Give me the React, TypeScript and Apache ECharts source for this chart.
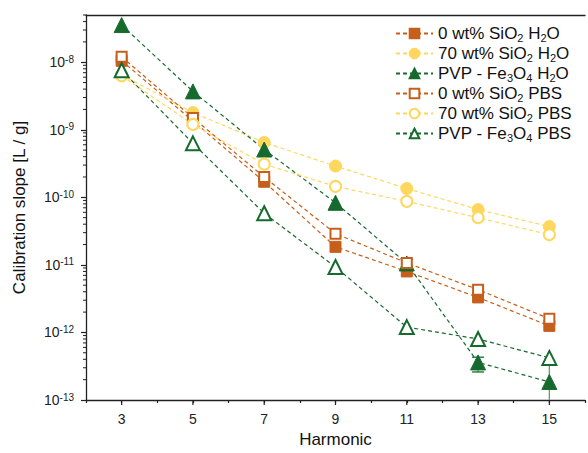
import React, { useEffect, useRef } from 'react';
import * as echarts from 'echarts';

// ---- data ----
const harmonics = [3, 5, 7, 9, 11, 13, 15];
const sio2_0_h2o = [1.05e-8, 1.35e-9, 1.7e-10, 1.85e-11, 8.0e-12, 3.3e-12, 1.25e-12];
const sio2_70_h2o = [6.5e-9, 1.8e-9, 6.5e-10, 2.9e-10, 1.35e-10, 6.6e-11, 3.7e-11];
const pvp_h2o = [3.55e-8, 3.7e-9, 5.1e-10, 8.3e-11, 1.05e-11, 3.6e-13, 1.85e-13];
const sio2_0_pbs = [1.2e-8, 1.5e-9, 2.0e-10, 2.9e-11, 1.07e-11, 4.3e-12, 1.6e-12];
const sio2_70_pbs = [6.3e-9, 1.2e-9, 3.1e-10, 1.45e-10, 8.7e-11, 5.0e-11, 2.8e-11];
const pvp_pbs = [7.6e-9, 6.3e-10, 5.8e-11, 9.3e-12, 1.2e-12, 8.0e-13, 4.2e-13];

const errHarmonics = [11, 13, 15];
const pvpH2oErrLow = [9e-12, 2.6e-13, 4e-14];
const pvpH2oErrHigh = [1.2e-11, 4.3e-13, 3.3e-13];

const xMajorTicks = [3, 5, 7, 9, 11, 13, 15];
const yDecades = [-13, -12, -11, -10, -9, -8];
const yMinorMultipliers = [2, 3, 4, 5, 6, 7, 8, 9];

const seriesNames = [
  '0 wt% SiO2 H2O',
  '70 wt% SiO2 H2O',
  'PVP - Fe3O4 H2O',
  '0 wt% SiO2 PBS',
  '70 wt% SiO2 PBS',
  'PVP - Fe3O4 PBS',
];
const richNames: Record<string, string> = {
  '0 wt% SiO2 H2O': '{n|0 wt% SiO}{s|2}{n| H}{s|2}{n|O}',
  '70 wt% SiO2 H2O': '{n|70 wt% SiO}{s|2}{n| H}{s|2}{n|O}',
  'PVP - Fe3O4 H2O': '{n|PVP - Fe}{s|3}{n|O}{s|4}{n| H}{s|2}{n|O}',
  '0 wt% SiO2 PBS': '{n|0 wt% SiO}{s|2}{n| PBS}',
  '70 wt% SiO2 PBS': '{n|70 wt% SiO}{s|2}{n| PBS}',
  'PVP - Fe3O4 PBS': '{n|PVP - Fe}{s|3}{n|O}{s|4}{n| PBS}',
};

const ORANGE = '#C65F1B';
const YELLOW = '#FFD75E';
const GREEN = '#176A2D';
const AXIS = '#222222';
const FONT = '"Liberation Sans", Arial, sans-serif';

function lineSeries(name: string, values: number[], color: string, symbol: string, size: number, filled: boolean) {
  return {
    name,
    type: 'line',
    data: harmonics.map((h, i) => [h, values[i]]),
    symbol,
    symbolSize: size,
    showAllSymbol: true,
    lineStyle: { color, width: 1.2, type: [4, 3] },
    itemStyle: { color, borderColor: color, borderWidth: filled ? 1 : 1.8 },
    z: 3,
  };
}

export default function App() {
  const ref = useRef<HTMLDivElement>(null);
  useEffect(() => {
    if (!ref.current) return;
    const chart = echarts.init(ref.current, undefined, { renderer: 'svg' });

    const yMinorData: number[][] = [];
    yDecades.forEach((d) => {
      yMinorMultipliers.forEach((k) => {
        const v = k * Math.pow(10, d);
        if (v <= 5e-8) yMinorData.push([2, v]);
      });
    });

    chart.setOption({
      animation: false,
      backgroundColor: '#ffffff',
      textStyle: { fontFamily: FONT },
      grid: { left: 86, right: -2, top: 15, bottom: 53, containLabel: false },
      legend: {
        orient: 'vertical',
        left: 395,
        top: 25,
        padding: 0,
        itemGap: 1.5,
        itemWidth: 37,
        itemHeight: 12,
        data: seriesNames,
        formatter: (name: string) => richNames[name] || name,
        textStyle: {
          fontFamily: FONT,
          color: '#111',
          rich: {
            n: { fontSize: 17, lineHeight: 20, fontFamily: FONT, color: '#111' },
            s: { fontSize: 11, lineHeight: 8, verticalAlign: 'bottom', fontFamily: FONT, color: '#111' },
          },
        },
      },
      xAxis: [
        {
          type: 'value',
          min: 2,
          max: 16,
          interval: 1,
          position: 'bottom',
          name: 'Harmonic',
          nameLocation: 'middle',
          nameGap: 30,
          nameTextStyle: { fontSize: 17, color: '#111', fontFamily: FONT },
          axisLine: { show: true, onZero: false, lineStyle: { color: AXIS, width: 1.3 } },
          axisTick: { show: true, inside: false, length: 3, lineStyle: { color: AXIS, width: 1.2 } },
          axisLabel: {
            margin: 12,
            fontSize: 14,
            color: '#222',
            fontFamily: FONT,
            formatter: (v: number) => (Math.round(v) % 2 === 1 ? String(Math.round(v)) : ''),
          },
          splitLine: { show: false },
        },
        {
          type: 'value',
          min: 2,
          max: 16,
          position: 'top',
          axisLine: { show: true, onZero: false, lineStyle: { color: AXIS, width: 1.3 } },
          axisTick: { show: false },
          axisLabel: { show: false },
          splitLine: { show: false },
        },
      ],
      yAxis: [
        {
          type: 'log',
          logBase: 10,
          min: 1e-13,
          max: 5e-8,
          name: 'Calibration slope [L / g]',
          nameLocation: 'middle',
          nameGap: 58,
          nameTextStyle: { fontSize: 17, color: '#111', fontFamily: FONT },
          axisLine: { show: true, onZero: false, lineStyle: { color: AXIS, width: 1.3 } },
          axisTick: { show: true, inside: false, length: 5, lineStyle: { color: AXIS, width: 1.2 } },
          axisLabel: {
            margin: 12,
            showMaxLabel: false,
            fontFamily: FONT,
            formatter: (v: number) => {
              const e = Math.round(Math.log10(v));
              return '{b|10}{p|' + e + '}';
            },
            rich: {
              b: { fontSize: 14, lineHeight: 16, color: '#222', fontFamily: FONT },
              p: { fontSize: 10, lineHeight: 8, verticalAlign: 'top', color: '#222', fontFamily: FONT },
            },
          },
          splitLine: { show: false },
        },
      ],
      series: [
        lineSeries(seriesNames[0], sio2_0_h2o, ORANGE, 'rect', 11, true),
        lineSeries(seriesNames[1], sio2_70_h2o, YELLOW, 'circle', 12, true),
        lineSeries(seriesNames[2], pvp_h2o, GREEN, 'triangle', 15, true),
        lineSeries(seriesNames[3], sio2_0_pbs, ORANGE, 'emptyRect', 10, false),
        lineSeries(seriesNames[4], sio2_70_pbs, YELLOW, 'emptyCircle', 11, false),
        lineSeries(seriesNames[5], pvp_pbs, GREEN, 'emptyTriangle', 14, false),
        {
          name: 'pvp-h2o-err',
          type: 'custom',
          clip: true,
          silent: true,
          z: 2,
          data: errHarmonics.map((h, i) => [h, pvpH2oErrLow[i], pvpH2oErrHigh[i]]),
          encode: { x: 0, y: [1, 2] },
          renderItem: (params: any, api: any) => {
            const lo = api.coord([api.value(0), api.value(1)]);
            const hi = api.coord([api.value(0), api.value(2)]);
            const w = 6;
            return {
              type: 'group',
              children: [
                { type: 'line', shape: { x1: lo[0], y1: lo[1], x2: hi[0], y2: hi[1] }, style: { stroke: '#5E9E72', lineWidth: 1.3 } },
                { type: 'line', shape: { x1: hi[0] - w, y1: hi[1], x2: hi[0] + w, y2: hi[1] }, style: { stroke: GREEN, lineWidth: 1.3 } },
                { type: 'line', shape: { x1: lo[0] - w, y1: lo[1], x2: lo[0] + w, y2: lo[1] }, style: { stroke: GREEN, lineWidth: 1.3 } },
              ],
            };
          },
        },
        {
          name: 'x-major-ticks',
          type: 'custom',
          clip: false,
          silent: true,
          z: 5,
          data: xMajorTicks.map((v) => [v, 1e-13]),
          renderItem: (params: any, api: any) => {
            const p = api.coord([api.value(0), api.value(1)]);
            return { type: 'line', shape: { x1: p[0], y1: p[1], x2: p[0], y2: p[1] + 5 }, style: { stroke: AXIS, lineWidth: 1.2 } };
          },
        },
        {
          name: 'y-minor-ticks',
          type: 'custom',
          clip: false,
          silent: true,
          z: 5,
          data: yMinorData,
          renderItem: (params: any, api: any) => {
            const p = api.coord([api.value(0), api.value(1)]);
            return { type: 'line', shape: { x1: p[0] - 3, y1: p[1], x2: p[0], y2: p[1] }, style: { stroke: AXIS, lineWidth: 1 } };
          },
        },
      ],
    });
    return () => chart.dispose();
  }, []);
  return <div ref={ref} style={{ position: 'fixed', left: 0, top: 0, width: 588, height: 453, background: '#fff' }} />;
}
